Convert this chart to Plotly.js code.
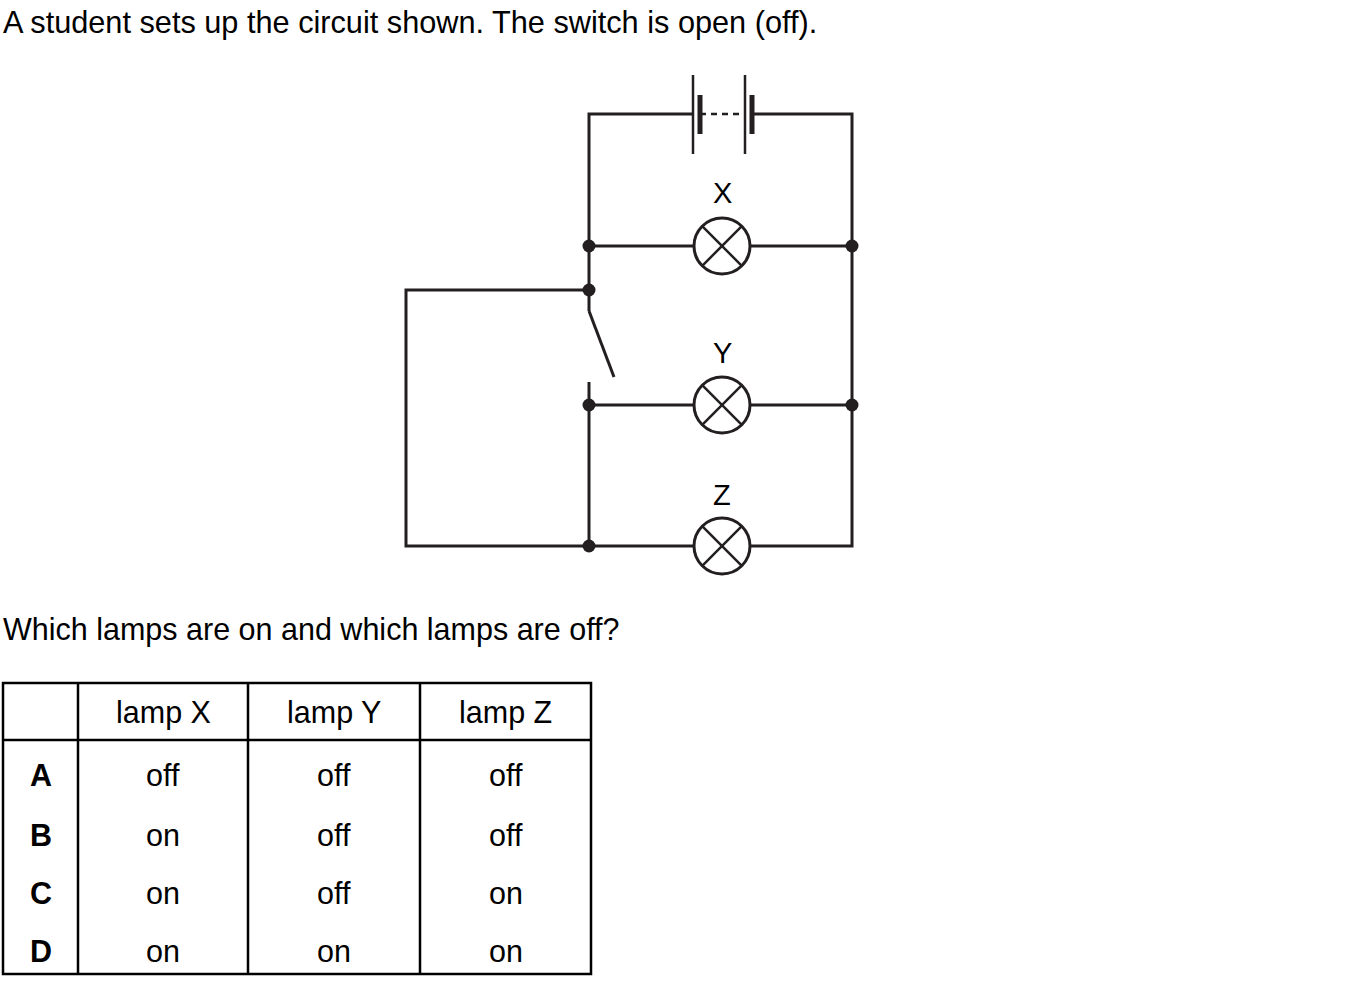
<!DOCTYPE html>
<html>
<head>
<meta charset="utf-8">
<script src="https://cdn.plot.ly/plotly-3.0.1.min.js"></script>
<style>
  html, body { margin: 0; padding: 0; background: #ffffff; }
  #plot { width: 1355px; height: 984px; }
</style>
</head>
<body>
<div id="plot"></div>
<script>
const W = 1355;
const H = 984;
const INK = "#231f20";
const FONT = "Liberation Sans, Arial, sans-serif";

// circuit wires as polylines (pixel coords of the page, y down)
const wireX = [
  [693, 589, 589],
  [752, 852, 852, 751],
  [589, 693], [751, 852],
  [589, 693], [751, 852],
  [589, 693],
  [589, 406, 406, 589],
  [589, 589],
  [589, 614],
  [589, 589]
];
const wireY = [
  [114, 114, 311],
  [114, 114, 546, 546],
  [246, 246], [246, 246],
  [405, 405], [405, 405],
  [546, 546],
  [290, 290, 546, 546],
  [382, 546],
  [311, 377],
  [311, 311]
];

// battery plates
const longPlateX = [693, 745];
const shortPlateX = [700, 752];
const longPlateY = [75, 154];
const shortPlateY = [95, 134];
const cellLinkX = [700, 745];
const cellLinkY = [114, 114];

const junctionX = [589, 852, 589, 589, 852, 589];
const junctionY = [246, 246, 290, 405, 405, 546];

const lampNames = ["X", "Y", "Z"];
const lampX = [722, 722, 722];
const lampY = [246, 405, 546];
const lampR = 28;
const lampLabelY = [193, 353, 495];

const titleText = "A student sets up the circuit shown. The switch is open (off).";
const questionText = "Which lamps are on and which lamps are off?";

const tableHeaders = ["lamp X", "lamp Y", "lamp Z"];
const rowLabels = ["A", "B", "C", "D"];
const lampXState = ["off", "on", "on", "on"];
const lampYState = ["off", "off", "off", "on"];
const lampZState = ["off", "off", "on", "on"];

const colEdges = [3, 78, 248, 420, 591];
const tableTop = 683;
const headerBottom = 740;
const tableBottom = 974;
const headerY = 712;
const rowY = [775, 835, 893, 951];

const joinSegments = (xs, ys) => {
  const x = [];
  const y = [];
  xs.forEach((seg, i) => {
    x.push(...seg, null);
    y.push(...ys[i], null);
  });
  return { x, y };
};

const wires = joinSegments(wireX, wireY);

const data = [
  {
    x: wires.x, y: wires.y, type: "scatter", mode: "lines",
    line: { color: INK, width: 3 }, hoverinfo: "skip"
  },
  {
    x: [longPlateX[0], longPlateX[0], null, longPlateX[1], longPlateX[1]],
    y: [longPlateY[0], longPlateY[1], null, longPlateY[0], longPlateY[1]],
    type: "scatter", mode: "lines",
    line: { color: INK, width: 2.5 }, hoverinfo: "skip"
  },
  {
    x: [shortPlateX[0], shortPlateX[0], null, shortPlateX[1], shortPlateX[1]],
    y: [shortPlateY[0], shortPlateY[1], null, shortPlateY[0], shortPlateY[1]],
    type: "scatter", mode: "lines",
    line: { color: INK, width: 5 }, hoverinfo: "skip"
  },
  {
    x: cellLinkX, y: cellLinkY, type: "scatter", mode: "lines",
    line: { color: INK, width: 2.5, dash: "6px,5px" }, hoverinfo: "skip"
  },
  {
    x: junctionX, y: junctionY, type: "scatter", mode: "markers",
    marker: { color: INK, size: 13 }, hoverinfo: "skip"
  }
];

const shapes = [];
lampX.forEach((cx, i) => {
  const cy = lampY[i];
  const d = lampR * Math.SQRT1_2;
  shapes.push({
    type: "circle", xref: "x", yref: "y",
    x0: cx - lampR, x1: cx + lampR, y0: cy - lampR, y1: cy + lampR,
    line: { color: INK, width: 3 }, fillcolor: "rgba(0,0,0,0)"
  });
  shapes.push({
    type: "line", xref: "x", yref: "y",
    x0: cx - d, y0: cy - d, x1: cx + d, y1: cy + d,
    line: { color: INK, width: 2.5 }
  });
  shapes.push({
    type: "line", xref: "x", yref: "y",
    x0: cx - d, y0: cy + d, x1: cx + d, y1: cy - d,
    line: { color: INK, width: 2.5 }
  });
});

// table grid
const gridLine = { color: "#000000", width: 2.5 };
shapes.push({
  type: "rect", xref: "x", yref: "y",
  x0: colEdges[0], x1: colEdges[colEdges.length - 1], y0: tableTop, y1: tableBottom,
  line: gridLine, fillcolor: "rgba(0,0,0,0)"
});
colEdges.slice(1, -1).forEach((cx) => {
  shapes.push({
    type: "line", xref: "x", yref: "y",
    x0: cx, x1: cx, y0: tableTop, y1: tableBottom, line: gridLine
  });
});
shapes.push({
  type: "line", xref: "x", yref: "y",
  x0: colEdges[0], x1: colEdges[colEdges.length - 1], y0: headerBottom, y1: headerBottom,
  line: gridLine
});

const textNote = (text, x, y, opts = {}) => ({
  text, x, y, xref: "x", yref: "y",
  showarrow: false,
  xanchor: opts.xanchor || "center",
  yanchor: "middle",
  font: { family: FONT, size: opts.size || 30.5, color: "#000000" }
});

const annotations = [
  textNote(titleText, 1, 22, { xanchor: "left", size: 30.7 }),
  textNote(questionText, 1, 629, { xanchor: "left" })
];

lampNames.forEach((name, i) => {
  annotations.push(textNote(name, lampX[i], lampLabelY[i], { size: 29 }));
});

const colCenter = (i) => (colEdges[i] + colEdges[i + 1]) / 2;

tableHeaders.forEach((h, i) => {
  annotations.push(textNote(h, colCenter(i + 1), headerY));
});

const states = [lampXState, lampYState, lampZState];
rowLabels.forEach((label, r) => {
  annotations.push(textNote("<b>" + label + "</b>", colCenter(0), rowY[r]));
  states.forEach((col, c) => {
    annotations.push(textNote(col[r], colCenter(c + 1), rowY[r]));
  });
});

const layout = {
  width: W,
  height: H,
  autosize: false,
  margin: { t: 0, r: 0, b: 0, l: 0 },
  xaxis: { range: [0, W], visible: false, fixedrange: true },
  yaxis: { range: [H, 0], visible: false, fixedrange: true },
  paper_bgcolor: "#ffffff",
  plot_bgcolor: "#ffffff",
  showlegend: false,
  shapes,
  annotations
};

Plotly.newPlot("plot", data, layout, { displayModeBar: false, staticPlot: true });
</script>
</body>
</html>
